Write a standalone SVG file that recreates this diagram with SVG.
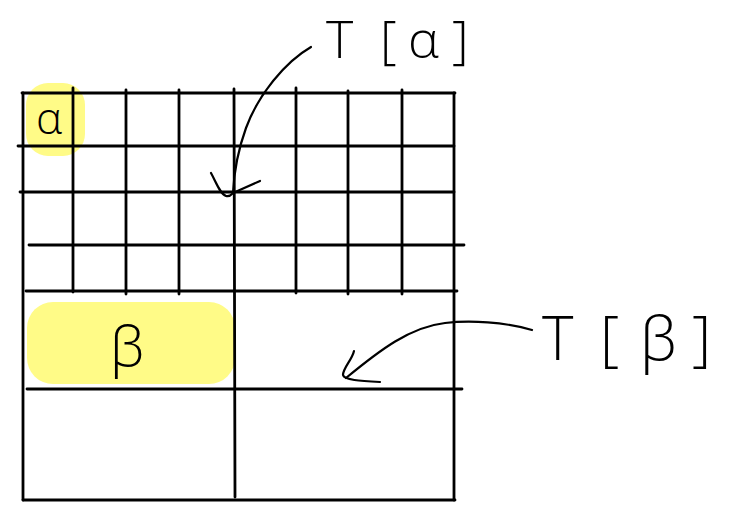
<svg xmlns="http://www.w3.org/2000/svg" width="740" height="507" viewBox="0 0 740 507">
  <style>
    .ink { stroke: #000; stroke-width: 2.8; stroke-linecap: round; fill: none; }
    .thin { stroke: #000; stroke-width: 2.2; stroke-linecap: round; stroke-linejoin: round; fill: none; }
    .hl { fill: #fffb87; }
    .hand { font-family: "Open Sans", "DejaVu Sans", sans-serif; font-weight: 300; fill: #000; }
  </style>
  <rect width="740" height="507" fill="#fff"/>

  <!-- highlights -->
  <g id="highlight-alpha">
    <rect class="hl" x="26" y="83" width="59" height="73" rx="22"/>
  </g>
  <g id="highlight-beta">
    <rect class="hl" x="27" y="302" width="208" height="82" rx="26"/>
  </g>

  <!-- table grid -->
  <g id="grid" class="ink">
    <line x1="22" y1="93" x2="455" y2="93"/>
    <line x1="18" y1="146" x2="454" y2="146"/>
    <line x1="20" y1="192" x2="454" y2="192"/>
    <line x1="29" y1="245" x2="464" y2="245"/>
    <line x1="26" y1="291" x2="457" y2="291"/>
    <line x1="27" y1="389" x2="462" y2="389"/>
    <line x1="23" y1="500" x2="455" y2="500"/>

    <line x1="23" y1="93" x2="23" y2="500"/>
    <line x1="73" y1="88" x2="73" y2="292"/>
    <line x1="126" y1="90" x2="126" y2="294"/>
    <line x1="179" y1="90" x2="179" y2="294"/>
    <line x1="234" y1="89" x2="235" y2="497"/>
    <line x1="296" y1="88" x2="296" y2="293"/>
    <line x1="348" y1="91" x2="348" y2="294"/>
    <line x1="402" y1="90" x2="402" y2="294"/>
    <line x1="454" y1="93" x2="454" y2="500"/>
  </g>

  <!-- cell symbols -->
  <g id="cell-alpha">
    <text class="hand" x="36" y="134" font-size="44">α</text>
  </g>
  <g id="cell-beta">
    <text class="hand" x="110" y="366" font-size="56">β</text>
  </g>

  <!-- labels -->
  <g id="label-t-alpha">
    <text class="hand" font-size="52" x="326 380 408 452" y="58">T[α]</text>
  </g>
  <g id="label-t-beta">
    <text class="hand" font-size="60" x="542 600 640 692" y="360">T[β]</text>
  </g>

  <!-- pointers -->
  <g id="connectors" class="thin">
    <path d="M311 47 C 285 62, 258 95, 246 128 C 238 150, 234 172, 233 193"/>
    <path d="M211 173 C 216 182, 220 194, 226 196 C 230 197, 232 194, 233 193 L 260 181"/>
    <path d="M532 330 C 505 322, 470 320, 445 323 C 410 327, 380 350, 346 378"/>
    <path d="M354 351 C 352 360, 343 368, 343 375 C 344 380, 360 381, 380 382"/>
  </g>
</svg>
